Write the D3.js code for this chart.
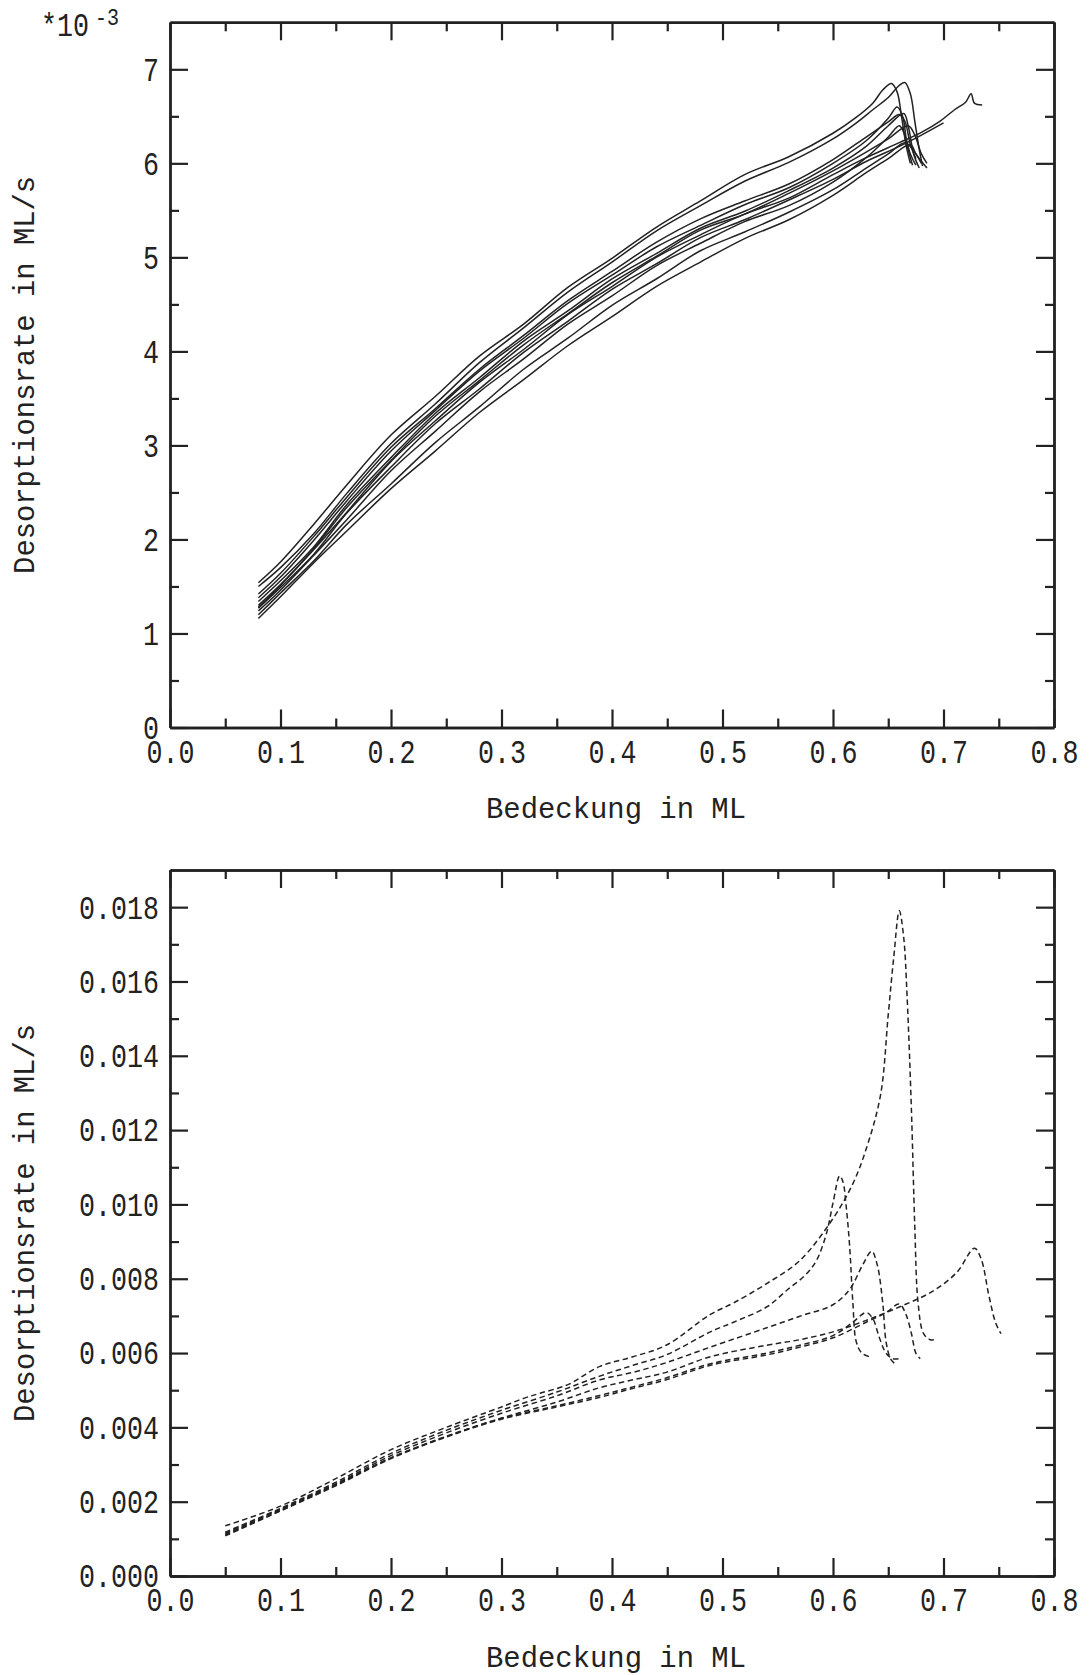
<!DOCTYPE html>
<html><head><meta charset="utf-8">
<script src="https://cdn.jsdelivr.net/npm/d3@7"></script>
<style>html,body{margin:0;padding:0;background:#fff}</style>
</head><body>
<svg id="chart" width="1090" height="1675"></svg>
<script>
// ---------- data ----------
const xTickValues = [0, 0.1, 0.2, 0.3, 0.4, 0.5, 0.6, 0.7, 0.8];
const xMinorValues = [0.05, 0.15, 0.25, 0.35, 0.45, 0.55, 0.65, 0.75];
const topYTicks = [0, 1, 2, 3, 4, 5, 6, 7];           // in units of 1e-3 ML/s
const topYMinor = [0.5, 1.5, 2.5, 3.5, 4.5, 5.5, 6.5];
const bottomYTicks = [0, 0.002, 0.004, 0.006, 0.008, 0.010, 0.012, 0.014, 0.016, 0.018];
const bottomYMinor = [0.001, 0.003, 0.005, 0.007, 0.009, 0.011, 0.013, 0.015, 0.017];

// top panel: shared coverage grid + per-run rates (1e-3 ML/s) + tails near the peak
const topX = [0.08, 0.10, 0.13, 0.16, 0.20, 0.24, 0.28, 0.32, 0.36, 0.40, 0.44, 0.48, 0.52, 0.56, 0.60];
const run1 = [1.54, 1.76, 2.16, 2.58, 3.11, 3.52, 3.95, 4.29, 4.68, 4.99, 5.32, 5.6, 5.88, 6.07, 6.32];
const run1Tail = [[0.62, 6.48], [0.636, 6.64], [0.645, 6.78], [0.653, 6.85], [0.658, 6.76], [0.662, 6.5], [0.666, 6.2], [0.670, 6.0]];
const run2 = [1.50, 1.70, 2.06, 2.49, 3.02, 3.44, 3.88, 4.25, 4.63, 4.95, 5.28, 5.55, 5.81, 6.01, 6.26];
const run2Tail = [[0.62, 6.42], [0.636, 6.57], [0.65, 6.7], [0.66, 6.83], [0.665, 6.86], [0.670, 6.74], [0.674, 6.45], [0.678, 6.15], [0.681, 5.97]];
const run3 = [1.38, 1.60, 1.99, 2.41, 2.94, 3.37, 3.79, 4.14, 4.51, 4.81, 5.11, 5.34, 5.56, 5.74, 6.0];
const run3Tail = [[0.63, 6.24], [0.65, 6.48], [0.658, 6.6], [0.663, 6.5], [0.667, 6.2], [0.672, 5.98]];
const run4 = [1.34, 1.56, 1.92, 2.37, 2.87, 3.34, 3.72, 4.11, 4.43, 4.77, 5.04, 5.31, 5.49, 5.71, 5.95];
const run4Tail = [[0.63, 6.18], [0.65, 6.4], [0.664, 6.53], [0.668, 6.4], [0.673, 6.1], [0.678, 5.95]];
const run5 = [1.30, 1.52, 1.89, 2.29, 2.83, 3.26, 3.67, 4.02, 4.39, 4.69, 5.0, 5.24, 5.46, 5.63, 5.88];
const run5Tail = [[0.63, 6.06], [0.66, 6.22], [0.68, 6.33], [0.697, 6.45], [0.71, 6.57], [0.72, 6.65], [0.725, 6.74], [0.728, 6.64], [0.735, 6.62]];
const run6 = [1.27, 1.49, 1.84, 2.28, 2.77, 3.23, 3.6, 3.99, 4.32, 4.66, 4.93, 5.21, 5.4, 5.61, 5.83];
const run6Tail = [[0.63, 6.02], [0.66, 6.18], [0.68, 6.3], [0.70, 6.43]];
const run7 = [1.24, 1.46, 1.83, 2.21, 2.73, 3.15, 3.57, 3.92, 4.29, 4.59, 4.91, 5.15, 5.38, 5.55, 5.8];
const run7Tail = [[0.63, 6.06], [0.65, 6.28], [0.66, 6.4], [0.665, 6.3], [0.67, 6.1], [0.675, 5.98]];
const run8 = [1.20, 1.43, 1.77, 2.16, 2.59, 3.03, 3.41, 3.81, 4.14, 4.49, 4.77, 5.07, 5.27, 5.48, 5.72];
const run8Tail = [[0.63, 5.95], [0.65, 6.1], [0.665, 6.22], [0.672, 6.15], [0.68, 6.0]];
const run9 = [1.16, 1.39, 1.75, 2.09, 2.54, 2.94, 3.35, 3.7, 4.06, 4.37, 4.69, 4.95, 5.2, 5.4, 5.66];
const run9Tail = [[0.63, 5.9], [0.65, 6.05], [0.67, 6.2], [0.675, 6.1], [0.685, 5.95]];
const run10 = [1.42, 1.64, 2.03, 2.45, 2.98, 3.39, 3.81, 4.17, 4.54, 4.85, 5.16, 5.41, 5.6, 5.78, 6.04];
const run10Tail = [[0.63, 6.28], [0.65, 6.44], [0.66, 6.52], [0.665, 6.45], [0.67, 6.2], [0.675, 6.05]];
const run11 = [1.28, 1.51, 1.9, 2.34, 2.84, 3.31, 3.69, 4.07, 4.4, 4.73, 5.01, 5.29, 5.46, 5.68, 5.92];
const run11Tail = [[0.63, 6.12], [0.65, 6.26], [0.668, 6.4], [0.674, 6.3], [0.68, 6.1], [0.685, 6.0]];

// bottom panel: [coverage, rate ML/s]
const runA = [[0.05,0.00135],[0.10,0.00188],[0.15,0.00262],[0.20,0.0034],[0.25,0.004],[0.30,0.00455],[0.32,0.00478],[0.335,0.00492],[0.36,0.00515],[0.389,0.00564],[0.419,0.0059],[0.449,0.00621],[0.489,0.00704],[0.51,0.00735],[0.54,0.00787],[0.57,0.00849],[0.60,0.00962],[0.618,0.01056],[0.63,0.01149],[0.643,0.01294],[0.65,0.01511],[0.655,0.01666],[0.66,0.0179],[0.664,0.01718],[0.667,0.01563],[0.671,0.01252],[0.674,0.00942],[0.677,0.00735],[0.682,0.00652],[0.688,0.00636],[0.692,0.00636]];
const runB = [[0.05,0.00118],[0.10,0.00182],[0.15,0.00252],[0.20,0.0033],[0.25,0.00392],[0.30,0.00446],[0.35,0.00495],[0.389,0.00538],[0.419,0.00567],[0.449,0.00595],[0.489,0.00657],[0.51,0.00683],[0.54,0.00724],[0.559,0.00771],[0.575,0.0081],[0.585,0.00849],[0.594,0.00921],[0.600,0.01004],[0.606,0.01077],[0.609,0.01061],[0.612,0.00993],[0.615,0.0089],[0.618,0.00735],[0.621,0.00631],[0.626,0.006],[0.633,0.0059]];
const runC = [[0.05,0.00115],[0.10,0.0018],[0.15,0.00248],[0.20,0.00324],[0.25,0.00385],[0.30,0.00438],[0.35,0.00485],[0.389,0.00528],[0.419,0.00548],[0.449,0.00574],[0.489,0.00616],[0.54,0.00668],[0.57,0.00699],[0.60,0.0073],[0.615,0.00771],[0.627,0.00838],[0.635,0.00874],[0.640,0.00838],[0.645,0.00735],[0.648,0.00631],[0.652,0.00585],[0.656,0.00571]];
const runD = [[0.05,0.0011],[0.10,0.00176],[0.15,0.00244],[0.20,0.00318],[0.25,0.00376],[0.30,0.00425],[0.35,0.00468],[0.389,0.00507],[0.419,0.00528],[0.449,0.00548],[0.489,0.0059],[0.54,0.00621],[0.57,0.00636],[0.60,0.00657],[0.63,0.00688],[0.66,0.00724],[0.69,0.00766],[0.712,0.00817],[0.728,0.00882],[0.734,0.00854],[0.741,0.00756],[0.747,0.00683],[0.752,0.00652]];
const runE = [[0.05,0.00112],[0.10,0.00178],[0.15,0.00246],[0.20,0.00318],[0.25,0.00375],[0.30,0.00424],[0.35,0.00458],[0.389,0.00486],[0.419,0.00509],[0.449,0.00533],[0.489,0.00571],[0.54,0.006],[0.57,0.00621],[0.60,0.00647],[0.618,0.00683],[0.630,0.00709],[0.636,0.00693],[0.642,0.00641],[0.648,0.006],[0.654,0.00585],[0.66,0.00585]];
const runF = [[0.05,0.00108],[0.10,0.00175],[0.15,0.00243],[0.20,0.00316],[0.25,0.00374],[0.30,0.00422],[0.35,0.00455],[0.389,0.00481],[0.419,0.00505],[0.449,0.00528],[0.489,0.00567],[0.54,0.00595],[0.57,0.00616],[0.60,0.00641],[0.63,0.00683],[0.648,0.00709],[0.66,0.00732],[0.666,0.00704],[0.671,0.00652],[0.675,0.006],[0.679,0.00585]];

const xTitle = "Bedeckung in ML";
const yTitle = "Desorptionsrate in ML/s";

// ---------- build series ----------
const topRuns = [[run1,run1Tail],[run2,run2Tail],[run3,run3Tail],[run4,run4Tail],[run5,run5Tail],[run6,run6Tail],
  [run7,run7Tail],[run8,run8Tail],[run9,run9Tail],[run10,run10Tail],[run11,run11Tail]]
  .map(([vals, tail]) => topX.map((xv, i) => [xv, vals[i]]).concat(tail));
const bottomRuns = [runA, runB, runC, runD, runE, runF];

// ---------- drawing ----------
const FONT = "'Liberation Mono','DejaVu Sans Mono',monospace";
const INK = "#222";
const svg = d3.select("#chart");
const x = d3.scaleLinear().domain([0, 0.8]).range([170, 1054]);

function styleAxis(g) {
  g.selectAll(".domain").attr("stroke", INK).attr("stroke-width", 2.4);
  g.selectAll(".tick line").attr("stroke", INK).attr("stroke-width", 2.2);
  g.attr("font-family", FONT).attr("font-size", 33);
  g.selectAll(".tick text").attr("fill", INK)
    .attr("lengthAdjust", "spacingAndGlyphs")
    .attr("textLength", function () { return this.textContent.length * 16; });
}

function panel(cfg) {
  const y = d3.scaleLinear().domain(cfg.yDomain).range([cfg.bottom, cfg.top]);
  const g = svg.append("g");
  // bottom
  g.append("g").attr("class", "xax").attr("transform", `translate(0,${cfg.bottom})`)
    .call(d3.axisBottom(x).tickValues(xTickValues).tickSize(-18).tickSizeOuter(0).tickPadding(12).tickFormat(d3.format(".1f")))
    .call(styleAxis);
  g.append("g").attr("transform", `translate(0,${cfg.bottom})`)
    .call(d3.axisBottom(x).tickValues(xMinorValues).tickSize(-9).tickSizeOuter(0).tickFormat(""))
    .call(styleAxis);
  // top
  g.append("g").attr("transform", `translate(0,${cfg.top})`)
    .call(d3.axisTop(x).tickValues(xTickValues).tickSize(-18).tickSizeOuter(0).tickFormat(""))
    .call(styleAxis);
  g.append("g").attr("transform", `translate(0,${cfg.top})`)
    .call(d3.axisTop(x).tickValues(xMinorValues).tickSize(-9).tickSizeOuter(0).tickFormat(""))
    .call(styleAxis);
  // left
  g.append("g").attr("class", "yax").attr("transform", `translate(170,0)`)
    .call(d3.axisLeft(y).tickValues(cfg.yTicks).tickSize(-18).tickSizeOuter(0).tickPadding(11).tickFormat(cfg.yFmt))
    .call(styleAxis);
  g.append("g").attr("transform", `translate(170,0)`)
    .call(d3.axisLeft(y).tickValues(cfg.yMinor).tickSize(-9).tickSizeOuter(0).tickFormat(""))
    .call(styleAxis);
  // right
  g.append("g").attr("transform", `translate(1054,0)`)
    .call(d3.axisRight(y).tickValues(cfg.yTicks).tickSize(-18).tickSizeOuter(0).tickFormat(""))
    .call(styleAxis);
  g.append("g").attr("transform", `translate(1054,0)`)
    .call(d3.axisRight(y).tickValues(cfg.yMinor).tickSize(-9).tickSizeOuter(0).tickFormat(""))
    .call(styleAxis);
  g.selectAll(".yax .tick text").attr("dy", "0.33em");
  g.selectAll(".xax .tick text").attr("dy", "0.71em");

  const line = d3.line().x(d => x(d[0])).y(d => y(d[1])).curve(d3.curveCatmullRom.alpha(0.5));
  g.append("g").selectAll("path").data(cfg.series).join("path")
    .attr("d", line).attr("fill", "none").attr("stroke", INK)
    .attr("stroke-width", 1.5)
    .attr("stroke-dasharray", cfg.dash || null);

  // titles
  g.append("text").attr("x", 616).attr("y", cfg.bottom + 90.5)
    .attr("text-anchor", "middle").attr("font-family", FONT).attr("font-size", 30).attr("fill", INK)
    .attr("textLength", 260).attr("lengthAdjust", "spacingAndGlyphs").text(xTitle);
  g.append("text").attr("transform", `translate(34,${(cfg.top + cfg.bottom) / 2}) rotate(-90)`)
    .attr("text-anchor", "middle").attr("font-family", FONT).attr("font-size", 29).attr("fill", INK)
    .attr("textLength", 398).attr("lengthAdjust", "spacingAndGlyphs").text(yTitle);
}

panel({ top: 22.3, bottom: 727.5, yDomain: [0, 7.5], yTicks: topYTicks, yMinor: topYMinor,
  yFmt: d3.format("d"), series: topRuns, dash: null });
panel({ top: 870, bottom: 1576, yDomain: [0, 0.019], yTicks: bottomYTicks, yMinor: bottomYMinor,
  yFmt: d3.format(".3f"), series: bottomRuns, dash: "5.5,3.5" });

// exponent marker for the top panel
const expo = svg.append("text").attr("x", 41).attr("y", 36).attr("font-family", FONT).attr("fill", INK);
expo.append("tspan").attr("font-size", 34).attr("textLength", 48).attr("lengthAdjust", "spacingAndGlyphs").text("*10");
expo.append("tspan").attr("font-size", 23).attr("dx", 6).attr("dy", -11).attr("textLength", 24).attr("lengthAdjust", "spacingAndGlyphs").text("-3");
</script>
</body></html>
